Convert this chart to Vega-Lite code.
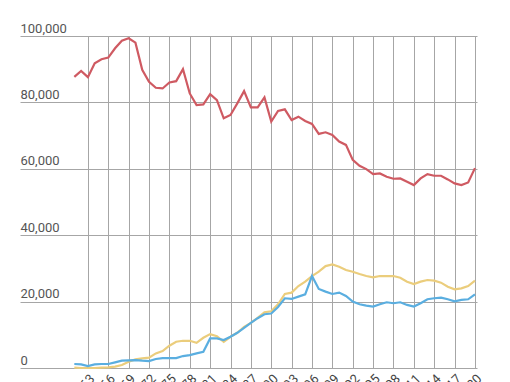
{
  "$schema": "https://vega.github.io/schema/vega-lite/v6.json",
  "width": 457,
  "height": 332,
  "autosize": "none",
  "padding": {"left": 20, "top": 36, "right": 33, "bottom": 14},
  "background": "white",
  "config": {
    "view": {"stroke": null},
    "font": "Roboto",
    "axis": {"labelFont": "Roboto", "labelColor": "#555555", "gridColor": "#a6a6a6", "gridOpacity": 1, "gridWidth": 1, "domain": false, "ticks": false}
  },
  "data": {
    "values": [
      {"year": 1961, "red": 87700, "yellow": 100, "blue": 1200},
      {"year": 1962, "red": 89500, "yellow": 0, "blue": 1100},
      {"year": 1963, "red": 87600, "yellow": 0, "blue": 600},
      {"year": 1964, "red": 91800, "yellow": 0, "blue": 1100},
      {"year": 1965, "red": 93000, "yellow": 100, "blue": 1200},
      {"year": 1966, "red": 93500, "yellow": 200, "blue": 1200},
      {"year": 1967, "red": 96300, "yellow": 400, "blue": 1700},
      {"year": 1968, "red": 98600, "yellow": 900, "blue": 2200},
      {"year": 1969, "red": 99300, "yellow": 1900, "blue": 2300},
      {"year": 1970, "red": 98000, "yellow": 2600, "blue": 2400},
      {"year": 1971, "red": 89800, "yellow": 2900, "blue": 2200},
      {"year": 1972, "red": 86200, "yellow": 3100, "blue": 2100},
      {"year": 1973, "red": 84400, "yellow": 4400, "blue": 2700},
      {"year": 1974, "red": 84200, "yellow": 5100, "blue": 3000},
      {"year": 1975, "red": 86000, "yellow": 6700, "blue": 3000},
      {"year": 1976, "red": 86400, "yellow": 7900, "blue": 3000},
      {"year": 1977, "red": 90000, "yellow": 8200, "blue": 3600},
      {"year": 1978, "red": 82700, "yellow": 8200, "blue": 3900},
      {"year": 1979, "red": 79200, "yellow": 7600, "blue": 4400},
      {"year": 1980, "red": 79400, "yellow": 9100, "blue": 4900},
      {"year": 1981, "red": 82500, "yellow": 10200, "blue": 8900},
      {"year": 1982, "red": 80700, "yellow": 9600, "blue": 8900},
      {"year": 1983, "red": 75200, "yellow": 7900, "blue": 8400},
      {"year": 1984, "red": 76200, "yellow": 9400, "blue": 9400},
      {"year": 1985, "red": 79700, "yellow": 10600, "blue": 10600},
      {"year": 1986, "red": 83400, "yellow": 12400, "blue": 12100},
      {"year": 1987, "red": 78500, "yellow": 13600, "blue": 13600},
      {"year": 1988, "red": 78500, "yellow": 15100, "blue": 15000},
      {"year": 1989, "red": 81500, "yellow": 16800, "blue": 16200},
      {"year": 1990, "red": 74200, "yellow": 17100, "blue": 16400},
      {"year": 1991, "red": 77400, "yellow": 19200, "blue": 18400},
      {"year": 1992, "red": 77900, "yellow": 22300, "blue": 21000},
      {"year": 1993, "red": 74700, "yellow": 22700, "blue": 20800},
      {"year": 1994, "red": 75700, "yellow": 24700, "blue": 21500},
      {"year": 1995, "red": 74400, "yellow": 26000, "blue": 22200},
      {"year": 1996, "red": 73500, "yellow": 27700, "blue": 27700},
      {"year": 1997, "red": 70500, "yellow": 29000, "blue": 23800},
      {"year": 1998, "red": 71000, "yellow": 30700, "blue": 23000},
      {"year": 1999, "red": 70200, "yellow": 31200, "blue": 22300},
      {"year": 2000, "red": 68200, "yellow": 30500, "blue": 22700},
      {"year": 2001, "red": 67200, "yellow": 29500, "blue": 21700},
      {"year": 2002, "red": 62700, "yellow": 29000, "blue": 20000},
      {"year": 2003, "red": 60900, "yellow": 28300, "blue": 19200},
      {"year": 2004, "red": 59900, "yellow": 27700, "blue": 18800},
      {"year": 2005, "red": 58400, "yellow": 27300, "blue": 18500},
      {"year": 2006, "red": 58600, "yellow": 27700, "blue": 19200},
      {"year": 2007, "red": 57600, "yellow": 27700, "blue": 19800},
      {"year": 2008, "red": 57000, "yellow": 27700, "blue": 19500},
      {"year": 2009, "red": 57100, "yellow": 27200, "blue": 19800},
      {"year": 2010, "red": 56100, "yellow": 26000, "blue": 19000},
      {"year": 2011, "red": 55100, "yellow": 25300, "blue": 18500},
      {"year": 2012, "red": 57100, "yellow": 26000, "blue": 19500},
      {"year": 2013, "red": 58400, "yellow": 26500, "blue": 20700},
      {"year": 2014, "red": 57900, "yellow": 26300, "blue": 21000},
      {"year": 2015, "red": 57900, "yellow": 25700, "blue": 21200},
      {"year": 2016, "red": 56800, "yellow": 24500, "blue": 20700},
      {"year": 2017, "red": 55600, "yellow": 23700, "blue": 20100},
      {"year": 2018, "red": 55100, "yellow": 24000, "blue": 20500},
      {"year": 2019, "red": 55900, "yellow": 24700, "blue": 20700},
      {"year": 2020, "red": 60200, "yellow": 26300, "blue": 22200}
    ]
  },
  "transform": [{"fold": ["red", "yellow", "blue"], "as": ["series", "value"]}],
  "mark": {"type": "line", "strokeWidth": 2.2, "interpolate": "linear"},
  "encoding": {
    "x": {
      "field": "year", "type": "quantitative",
      "scale": {"domain": [1953, 2020.3], "nice": false, "zero": false},
      "axis": {"title": null, "values": [1963, 1966, 1969, 1972, 1975, 1978, 1981, 1984, 1987, 1990, 1993, 1996, 1999, 2002, 2005, 2008, 2011, 2014, 2017, 2020], "format": "d", "labelAngle": -45, "labelFontSize": 13, "labelPadding": 4, "labelOverlap": false, "labelBound": false, "labelFlush": false, "labelColor": "#444444"}
    },
    "y": {
      "field": "value", "type": "quantitative",
      "scale": {"domain": [0, 100000], "nice": false},
      "axis": {"title": null, "values": [0, 20000, 40000, 60000, 80000, 100000], "format": ",d", "labelAlign": "left", "labelBaseline": "alphabetic", "labelPadding": 0, "labelOffset": -4, "labelFontSize": 13, "labelColor": "#555555"}
    },
    "color": {
      "field": "series", "type": "nominal",
      "scale": {"domain": ["red", "yellow", "blue"], "range": ["#cf5a62", "#ebcd7c", "#5aaee0"]},
      "legend": null
    },
    "order": {"field": "year", "type": "quantitative"}
  }
}
